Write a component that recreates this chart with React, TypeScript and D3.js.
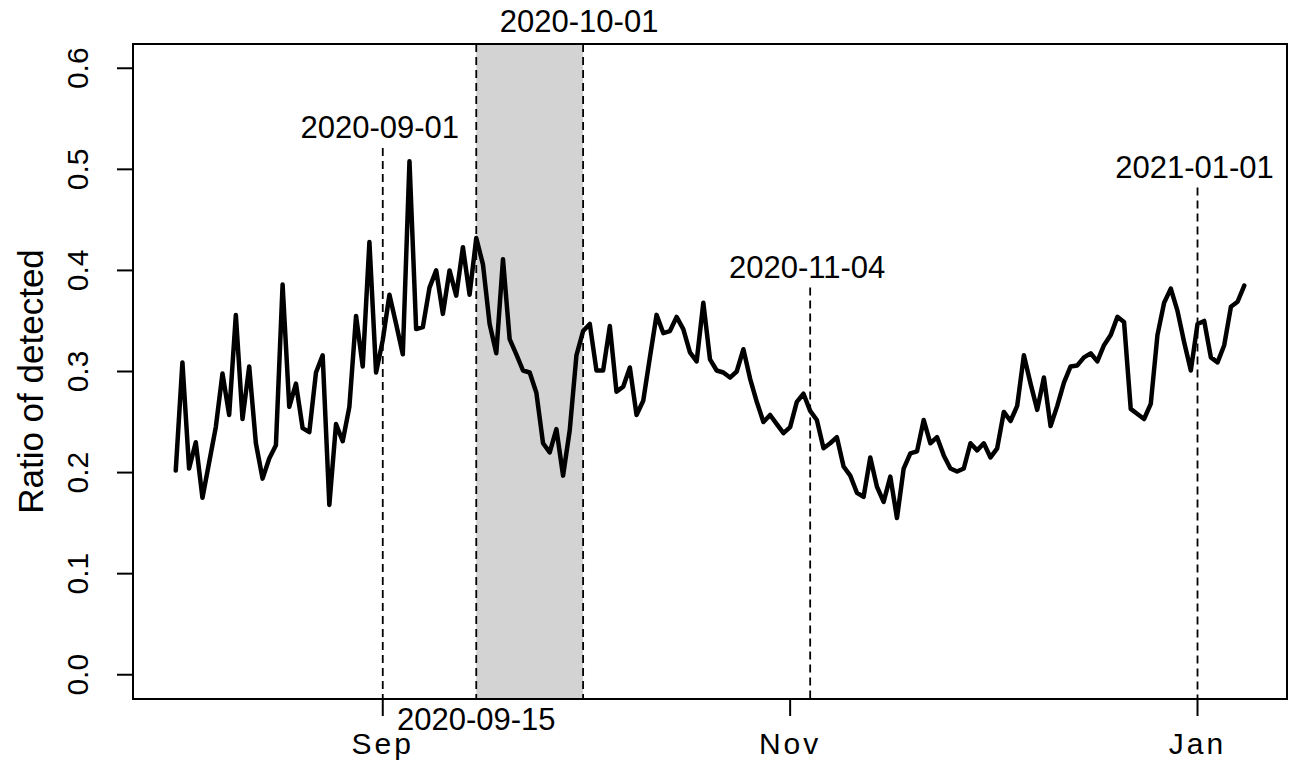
import * as d3 from "d3";

const WIDTH = 1293;
const HEIGHT = 761;
const PLOT = { left: 133, right: 1287, top: 44, bottom: 699 };
const FONT = "'Liberation Sans', Arial, sans-serif";

// daily ratio of detected, 2020-08-01 .. 2021-01-08
const START_DATE = "2020-08-01";
const augValues = [
  0.202, 0.309, 0.204, 0.23, 0.175, 0.21, 0.245, 0.298, 0.257, 0.356,
  0.253, 0.305, 0.229, 0.194, 0.214, 0.227, 0.386, 0.265, 0.288, 0.244,
  0.24, 0.299, 0.316, 0.168, 0.248, 0.231, 0.265, 0.355, 0.305, 0.428, 0.299,
];
const sepValues = [
  0.331, 0.376, 0.347, 0.317, 0.508, 0.342, 0.344, 0.383, 0.4, 0.357,
  0.4, 0.375, 0.423, 0.376, 0.432, 0.406, 0.347, 0.318, 0.411, 0.332,
  0.317, 0.301, 0.299, 0.279, 0.229, 0.22, 0.243, 0.197, 0.242, 0.316,
];
const octValues = [
  0.34, 0.347, 0.301, 0.301, 0.345, 0.28, 0.285, 0.304, 0.257, 0.271,
  0.314, 0.356, 0.338, 0.34, 0.354, 0.342, 0.319, 0.31, 0.368, 0.312,
  0.301, 0.299, 0.294, 0.3, 0.322, 0.293, 0.27, 0.25, 0.257, 0.248, 0.239,
];
const novValues = [
  0.245, 0.27, 0.278, 0.261, 0.252, 0.224, 0.229, 0.235, 0.206, 0.197,
  0.18, 0.176, 0.215, 0.186, 0.171, 0.196, 0.155, 0.204, 0.219, 0.221,
  0.252, 0.229, 0.235, 0.217, 0.204, 0.201, 0.204, 0.229, 0.222, 0.229,
];
const decValues = [
  0.215, 0.224, 0.26, 0.251, 0.266, 0.316, 0.288, 0.262, 0.294, 0.246,
  0.266, 0.289, 0.305, 0.306, 0.314, 0.318, 0.31, 0.326, 0.336, 0.354,
  0.349, 0.263, 0.258, 0.253, 0.268, 0.336, 0.368, 0.382, 0.36, 0.329, 0.301,
];
const janValues = [0.347, 0.35, 0.314, 0.309, 0.326, 0.364, 0.369, 0.385];

const yTicks = [0, 0.1, 0.2, 0.3, 0.4, 0.5, 0.6];
const monthTicks = ["2020-09-01", "2020-11-01", "2021-01-01"];

// dashed marker lines inside the plot, each with a label above it
const markerDates = ["2020-09-01", "2020-11-04", "2021-01-01"];
const markerTops = [0.521, 0.383, 0.482];
// shaded period
const periodDates = ["2020-09-15", "2020-10-01"];

const parse = d3.utcParse("%Y-%m-%d");
const DAY = 24 * 3600 * 1000;

export default function App() {
  const allValues = [
    ...augValues,
    ...sepValues,
    ...octValues,
    ...novValues,
    ...decValues,
    ...janValues,
  ];
  const start = parse(START_DATE)!;
  const data = allValues.map((v, i) => ({
    date: new Date(start.getTime() + i * DAY),
    value: v,
  }));

  const [d0, d1] = d3.extent(data, (d) => d.date) as [Date, Date];
  const pad = (d1.getTime() - d0.getTime()) * 0.04;
  const xScale = d3
    .scaleUtc()
    .domain([new Date(d0.getTime() - pad), new Date(d1.getTime() + pad)])
    .range([PLOT.left, PLOT.right]);

  const yPad = 0.6 * 0.04;
  const yScale = d3
    .scaleLinear()
    .domain([-yPad, 0.6 + yPad])
    .range([PLOT.bottom, PLOT.top]);

  const line = d3
    .line<{ date: Date; value: number }>()
    .x((d) => xScale(d.date))
    .y((d) => yScale(d.value));

  const fmt = d3.utcFormat("%b");
  const px0 = xScale(parse(periodDates[0])!);
  const px1 = xScale(parse(periodDates[1])!);

  return (
    <svg
      width={WIDTH}
      height={HEIGHT}
      style={{ position: "absolute", left: 0, top: 0, background: "white" }}
      fontFamily={FONT}
    >
      {/* shaded period */}
      <rect
        x={px0}
        y={PLOT.top}
        width={px1 - px0}
        height={PLOT.bottom - PLOT.top}
        fill="#d3d3d3"
      />
      {periodDates.map((d) => (
        <line
          key={d}
          x1={xScale(parse(d)!)}
          x2={xScale(parse(d)!)}
          y1={PLOT.top}
          y2={PLOT.bottom}
          stroke="#000"
          strokeWidth={1.8}
          strokeDasharray="8,5"
        />
      ))}
      <text x={px0} y={730} textAnchor="middle" fontSize={31} fill="#000">
        {periodDates[0]}
      </text>
      <text x={px1 - 4} y={32} textAnchor="middle" fontSize={31} fill="#000">
        {periodDates[1]}
      </text>

      {/* marker lines */}
      {markerDates.map((d, i) => {
        const x = xScale(parse(d)!);
        const top = yScale(markerTops[i]);
        return (
          <g key={d}>
            <line
              x1={x}
              x2={x}
              y1={top}
              y2={PLOT.bottom}
              stroke="#000"
              strokeWidth={1.8}
              strokeDasharray="8,5"
            />
            <text
              x={x - 3}
              y={top - 10}
              textAnchor="middle"
              fontSize={31}
              fill="#000"
            >
              {d}
            </text>
          </g>
        );
      })}

      {/* series */}
      <path
        d={line(data) || ""}
        fill="none"
        stroke="#000"
        strokeWidth={4.5}
        strokeLinejoin="round"
        strokeLinecap="round"
      />

      {/* box */}
      <rect
        x={PLOT.left}
        y={PLOT.top}
        width={PLOT.right - PLOT.left}
        height={PLOT.bottom - PLOT.top}
        fill="none"
        stroke="#000"
        strokeWidth={2}
      />

      {/* y axis */}
      {yTicks.map((t) => (
        <g key={t}>
          <line
            x1={PLOT.left - 16}
            x2={PLOT.left}
            y1={yScale(t)}
            y2={yScale(t)}
            stroke="#000"
            strokeWidth={2}
          />
          <text
            transform={`translate(88,${yScale(t)}) rotate(-90)`}
            textAnchor="middle"
            fontSize={30}
            fill="#000"
          >
            {t.toFixed(1)}
          </text>
        </g>
      ))}
      <text
        transform={`translate(43,${(PLOT.top + PLOT.bottom) / 2 + 10}) rotate(-90)`}
        textAnchor="middle"
        fontSize={35}
        fill="#000"
      >
        Ratio of detected
      </text>

      {/* x axis */}
      {monthTicks.map((m) => {
        const x = xScale(parse(m)!);
        return (
          <g key={m}>
            <line
              x1={x}
              x2={x}
              y1={PLOT.bottom}
              y2={PLOT.bottom + 17}
              stroke="#000"
              strokeWidth={2}
            />
            <text
              x={x}
              y={754}
              textAnchor="middle"
              fontSize={30}
              letterSpacing={3}
              fill="#000"
            >
              {fmt(parse(m)!)}
            </text>
          </g>
        );
      })}
    </svg>
  );
}
